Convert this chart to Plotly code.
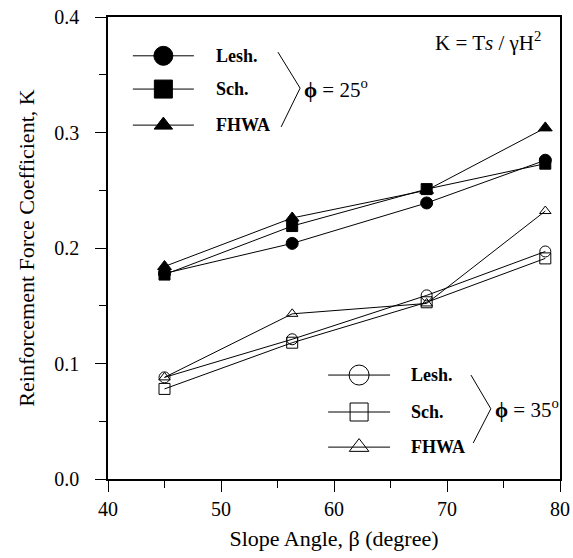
import plotly.graph_objects as go

# slope angles (degrees) and reinforcement force coefficients
slope_angle = [45, 56.3, 68.2, 78.7]
lesh_25 = [0.178, 0.204, 0.239, 0.276]
sch_25 = [0.177, 0.219, 0.251, 0.273]
fhwa_25 = [0.184, 0.226, 0.250, 0.304]
lesh_35 = [0.088, 0.121, 0.159, 0.197]
sch_35 = [0.078, 0.118, 0.153, 0.191]
fhwa_35 = [0.088, 0.143, 0.152, 0.232]

method_names = ["Lesh.", "Sch.", "FHWA"]
FONT = "Liberation Serif"

fig = go.Figure()

series = [
    (lesh_25, "circle", 12), (sch_25, "square", 11), (fhwa_25, "triangle-up", 12),
    (lesh_35, "circle-open", 11), (sch_35, "square-open", 11), (fhwa_35, "triangle-up-open", 10),
]
for vals, sym, sz in series:
    fig.add_trace(go.Scatter(
        x=slope_angle, y=vals, mode="lines+markers",
        line={"color": "black", "width": 1},
        marker={"symbol": sym, "size": sz, "color": "black", "line": {"color": "black", "width": 1}},
        showlegend=False, hoverinfo="skip",
    ))

# hand-drawn legends on an overlay axis in plot-area fractions
def legend_block(symbols, sizes, x0, x1, ys, text_x, brace, phi_text):
    xc = (x0 + x1) / 2
    for sym, sz, yy, name in zip(symbols, sizes, ys, method_names):
        fig.add_trace(go.Scatter(
            x=[x0, x1], y=[yy, yy], xaxis="x2", yaxis="y2", mode="lines",
            line={"color": "black", "width": 1}, showlegend=False, hoverinfo="skip"))
        fig.add_trace(go.Scatter(
            x=[xc], y=[yy], xaxis="x2", yaxis="y2", mode="markers",
            marker={"symbol": sym, "size": sz, "color": "black", "line": {"color": "black", "width": 1}},
            showlegend=False, hoverinfo="skip"))
        fig.add_annotation(x=text_x, y=yy, xref="x2", yref="y2", text="<b>%s</b>" % name,
                           showarrow=False, xanchor="left", font={"family": FONT, "size": 18})
    fig.add_trace(go.Scatter(
        x=[p[0] for p in brace], y=[p[1] for p in brace], xaxis="x2", yaxis="y2",
        mode="lines", line={"color": "black", "width": 1}, showlegend=False, hoverinfo="skip"))
    fig.add_annotation(x=brace[1][0] + 0.004, y=brace[1][1], xref="x2", yref="y2", text=phi_text,
                       showarrow=False, xanchor="left", font={"family": FONT, "size": 21})

legend_block(["circle", "square", "triangle-up"], [19, 18, 16], 0.055, 0.19,
             [0.916, 0.844, 0.766], 0.235,
             [(0.376, 0.924), (0.425, 0.846), (0.383, 0.762)],
             "<b>ϕ</b> = 25<sup>o</sup>")
legend_block(["circle-open", "square-open", "triangle-up-open"], [20, 18, 17], 0.487, 0.624,
             [0.225, 0.145, 0.069], 0.667,
             [(0.803, 0.225), (0.847, 0.152), (0.808, 0.078)],
             "<b>ϕ</b> = 35<sup>o</sup>")

fig.add_annotation(x=0.72, y=0.946, xref="x2", yref="y2", xanchor="left",
                   text="K = T<i>s</i> / γH<sup>2</sup>", showarrow=False,
                   font={"family": FONT, "size": 21})

axis_common = {
    "showline": True, "linecolor": "black", "linewidth": 1.5, "mirror": True,
    "showgrid": False, "zeroline": False, "ticks": "outside", "ticklen": 11,
    "tickwidth": 1, "tickcolor": "black", "automargin": False,
    "tickfont": {"family": FONT, "size": 20, "color": "black"},
}

fig.update_layout(
    width=573, height=558,
    margin={"l": 108, "r": 13, "t": 17, "b": 79},
    paper_bgcolor="white", plot_bgcolor="white",
    font={"family": FONT, "color": "black"},
    xaxis={**axis_common, "range": [40, 80], "dtick": 10,
           "minor": {"dtick": 5, "ticks": "outside", "ticklen": 7, "tickcolor": "black"},
           "title": {"text": "Slope Angle, β (degree)", "font": {"family": FONT, "size": 22}, "standoff": 12}},
    yaxis={**axis_common, "range": [0, 0.4], "dtick": 0.1, "tickformat": ".1f",
           "ticklabelstandoff": 12,
           "minor": {"dtick": 0.05, "ticks": "outside", "ticklen": 7, "tickcolor": "black"},
           "title": {"text": "Reinforcement Force Coefficient, K", "font": {"family": FONT, "size": 22}, "standoff": 14}},
    xaxis2={"overlaying": "x", "range": [0, 1], "visible": False},
    yaxis2={"overlaying": "y", "range": [0, 1], "visible": False},
)

# drop the browser's default body margin so the figure sits at the page corner
fig.write_html("out.html", config={"displayModeBar": False},
               post_script="document.body.style.margin='0';")
